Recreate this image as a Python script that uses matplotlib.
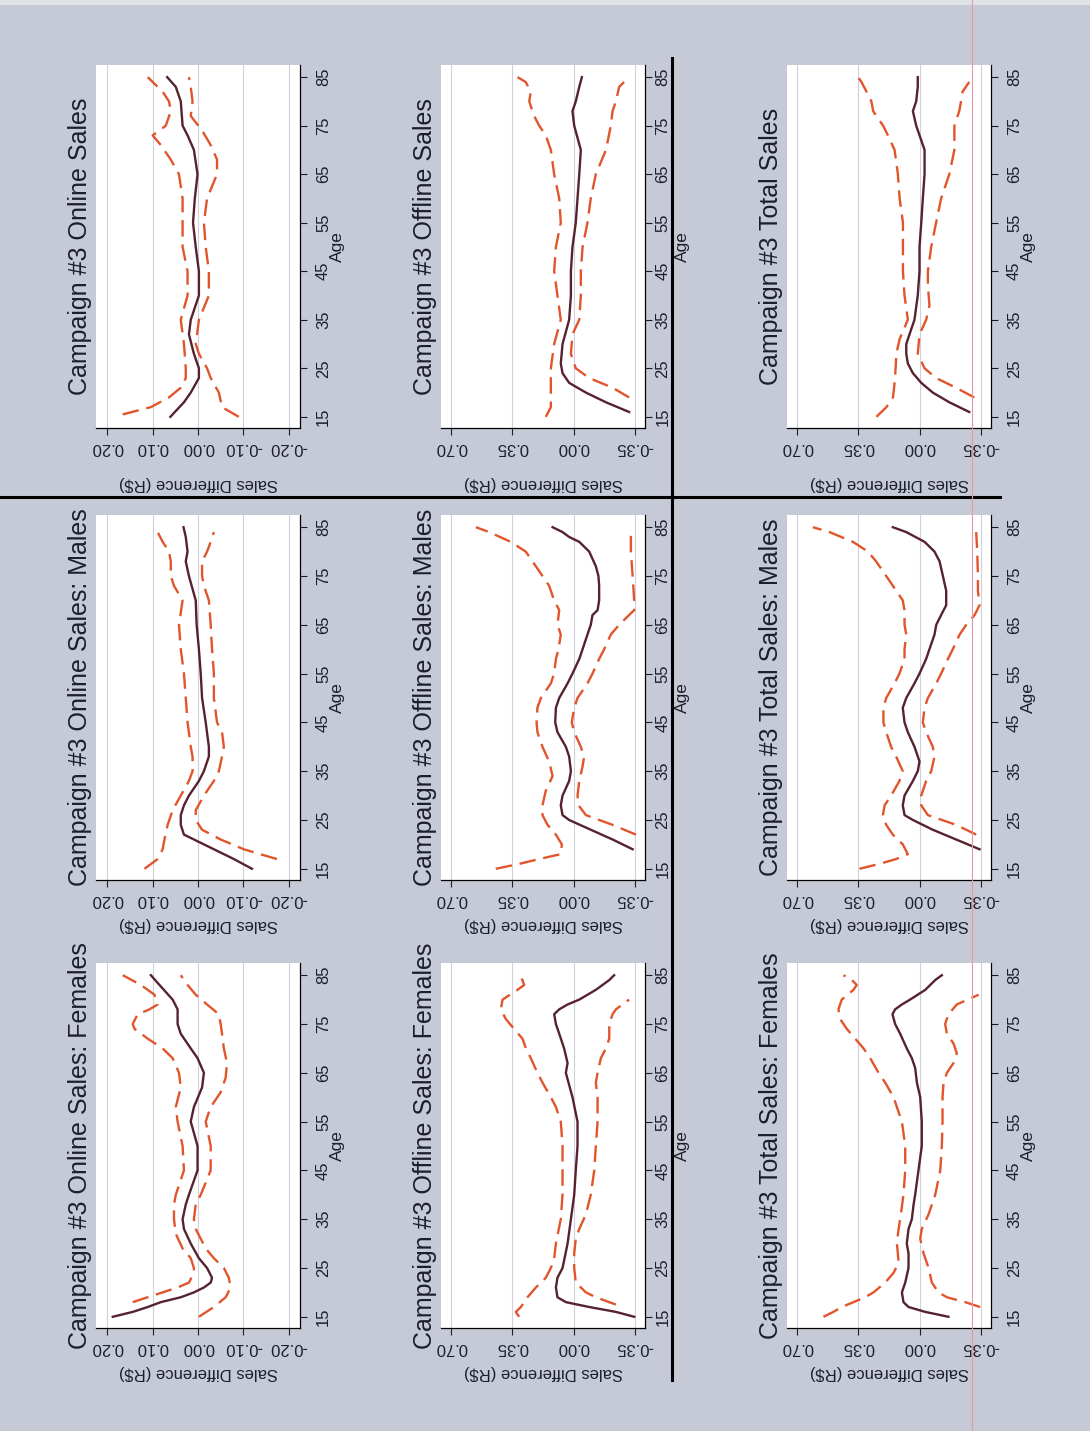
import matplotlib
matplotlib.use("Agg")
import matplotlib.pyplot as plt
from matplotlib.lines import Line2D
from matplotlib.patches import Rectangle

plt.rcParams["font.family"] = ["Liberation Sans", "DejaVu Sans"]

# ---------------------------------------------------------------------------
# Data: (age, sales difference in R$) for the estimate and its 95% bounds
# ---------------------------------------------------------------------------
AGE_TICKS = [15, 25, 35, 45, 55, 65, 75, 85]

ONLINE_TICKS = [0.20, 0.10, 0.00, -0.10, -0.20]
ONLINE_TICK_LABELS = ["0.20", "0.10", "0.00", "-0.10", "-0.20"]
STORE_TICKS = [0.70, 0.35, 0.00, -0.35]
STORE_TICK_LABELS = ["0.70", "0.35", "0.00", "-0.35"]

# Campaign #3, online sales, all customers
on_all_est = [(15, 0.061), (18, 0.031), (20, 0.016), (23, -0.002), (25, -0.002), (28, 0.009),
              (32, 0.020), (35, 0.016), (40, -0.002), (45, -0.002), (50, 0.005), (55, 0.011),
              (60, 0.007), (65, 0.001), (70, 0.009), (73, 0.023), (75, 0.034), (80, 0.038),
              (83, 0.049), (85, 0.068)]
on_all_hi = [(15.5, 0.166), (17, 0.104), (19, 0.064), (21, 0.038), (23, 0.027), (25, 0.027),
             (30, 0.031), (35, 0.038), (40, 0.023), (45, 0.023), (50, 0.034), (55, 0.034),
             (60, 0.034), (65, 0.042), (68, 0.060), (71, 0.082), (73, 0.100), (75, 0.071),
             (78, 0.060), (80, 0.064), (82, 0.078), (85, 0.111)]
on_all_lo = [(15, -0.090), (17, -0.053), (20, -0.046), (23, -0.028), (25, -0.020), (28, -0.002),
             (30, 0.005), (35, -0.002), (40, -0.024), (45, -0.024), (50, -0.017), (55, -0.013),
             (60, -0.020), (65, -0.042), (68, -0.042), (71, -0.028), (74, -0.009), (77, 0.016),
             (80, 0.012), (83, 0.016), (85, 0.020)]

# Campaign #3, offline sales, all customers
off_all_est = [(16, -0.319), (18, -0.186), (20, -0.071), (22, 0.025), (24, 0.063), (26, 0.073),
               (30, 0.063), (35, 0.025), (40, 0.015), (45, 0.015), (50, 0.006), (55, -0.013),
               (60, -0.023), (65, -0.033), (70, -0.042), (75, -0.004), (78, 0.006), (80, -0.013),
               (83, -0.033), (85, -0.048)]
off_all_hi = [(15, 0.159), (17, 0.130), (20, 0.130), (25, 0.130), (30, 0.111), (35, 0.073),
              (40, 0.092), (45, 0.111), (50, 0.101), (55, 0.073), (60, 0.082), (65, 0.111),
              (70, 0.130), (73, 0.159), (75, 0.197), (77, 0.226), (80, 0.254), (82, 0.245),
              (84, 0.274), (85, 0.321)]
off_all_lo = [(19, -0.319), (21, -0.224), (23, -0.090), (25, -0.013), (28, 0.015), (32, 0.006),
              (35, -0.033), (40, -0.042), (45, -0.042), (50, -0.052), (55, -0.080), (60, -0.099),
              (65, -0.128), (70, -0.186), (75, -0.214), (78, -0.224), (80, -0.243), (83, -0.262),
              (84, -0.290)]

# Campaign #3, total sales, all customers
tot_all_est = [(16, -0.285), (18, -0.171), (20, -0.076), (22, -0.010), (24, 0.038), (26, 0.067),
               (28, 0.076), (30, 0.076), (33, 0.048), (35, 0.029), (40, 0.010), (45, 0.000),
               (50, 0.000), (55, -0.010), (60, -0.019), (65, -0.029), (70, -0.029), (75, 0.019),
               (78, 0.038), (80, 0.019), (83, 0.010), (85, 0.010)]
tot_all_hi = [(15, 0.247), (17, 0.190), (19, 0.152), (22, 0.143), (25, 0.137), (28, 0.133),
              (31, 0.114), (35, 0.067), (40, 0.086), (45, 0.095), (50, 0.095), (55, 0.095),
              (60, 0.114), (65, 0.124), (70, 0.143), (73, 0.181), (75, 0.209), (78, 0.266),
              (80, 0.276), (82, 0.304), (84, 0.333), (85, 0.352)]
tot_all_lo = [(19, -0.314), (21, -0.209), (23, -0.095), (25, -0.029), (28, 0.010), (32, 0.000),
              (35, -0.038), (38, -0.057), (42, -0.048), (45, -0.048), (50, -0.067), (55, -0.095),
              (60, -0.124), (65, -0.171), (70, -0.200), (75, -0.200), (78, -0.228), (80, -0.238),
              (82, -0.247), (84, -0.285)]

# Campaign #3, online sales, males
on_m_est = [(15, -0.119), (17, -0.079), (19, -0.035), (21, 0.009), (22, 0.031), (24, 0.038),
            (26, 0.038), (28, 0.031), (30, 0.020), (33, -0.002), (35, -0.013), (38, -0.024),
            (40, -0.024), (45, -0.017), (50, -0.009), (55, -0.006), (60, -0.002), (65, 0.003),
            (70, 0.005), (75, 0.020), (78, 0.027), (80, 0.023), (83, 0.027), (85, 0.032)]
on_m_hi = [(15, 0.118), (17, 0.089), (19, 0.078), (21, 0.074), (24, 0.067), (27, 0.056),
           (30, 0.038), (33, 0.020), (35, 0.012), (38, 0.012), (40, 0.016), (45, 0.023),
           (50, 0.027), (55, 0.031), (60, 0.038), (65, 0.042), (70, 0.034), (73, 0.053),
           (75, 0.060), (78, 0.060), (80, 0.064), (82, 0.078), (84, 0.089)]
on_m_lo = [(17, -0.174), (18, -0.137), (19, -0.101), (21, -0.050), (23, -0.009), (25, 0.005),
           (27, 0.005), (30, -0.013), (33, -0.035), (35, -0.046), (38, -0.053), (40, -0.057),
           (43, -0.053), (45, -0.042), (50, -0.035), (55, -0.035), (60, -0.031), (65, -0.028),
           (70, -0.024), (73, -0.013), (75, -0.009), (78, -0.009), (80, -0.020), (82, -0.028),
           (84, -0.035)]

# Campaign #3, offline sales, males
off_m_est = [(19, -0.339), (21, -0.224), (23, -0.099), (25, 0.025), (26, 0.063), (28, 0.073),
             (30, 0.063), (33, 0.025), (35, 0.015), (38, 0.025), (40, 0.044), (43, 0.092),
             (45, 0.105), (48, 0.101), (50, 0.082), (53, 0.034), (55, 0.006), (58, -0.033),
             (60, -0.052), (63, -0.080), (65, -0.099), (67, -0.109), (68, -0.138), (70, -0.147),
             (73, -0.147), (75, -0.143), (77, -0.128), (80, -0.090), (82, -0.033), (83, 0.025),
             (84, 0.063), (85, 0.120)]
off_m_hi = [(15, 0.446), (16, 0.312), (17, 0.197), (18, 0.073), (20, 0.067), (22, 0.101),
            (24, 0.149), (26, 0.178), (28, 0.178), (31, 0.159), (34, 0.120), (37, 0.140),
            (40, 0.178), (43, 0.207), (45, 0.212), (48, 0.207), (50, 0.187), (53, 0.130),
            (55, 0.111), (58, 0.101), (60, 0.086), (63, 0.073), (65, 0.092), (68, 0.082),
            (70, 0.111), (73, 0.140), (75, 0.178), (78, 0.235), (80, 0.274), (82, 0.360),
            (84, 0.484), (85, 0.560)]
off_m_lo = [(22, -0.358), (24, -0.224), (26, -0.071), (28, -0.029), (30, -0.023), (33, -0.033),
            (36, -0.052), (38, -0.061), (40, -0.042), (43, -0.004), (45, 0.010), (48, -0.004),
            (50, -0.023), (53, -0.080), (55, -0.109), (58, -0.147), (60, -0.176), (63, -0.214),
            (65, -0.262), (67, -0.319), (68, -0.348), (70, -0.348), (75, -0.339), (80, -0.329),
            (84, -0.329)]

# Campaign #3, total sales, males
tot_m_est = [(19, -0.344), (21, -0.210), (23, -0.076), (25, 0.038), (26, 0.086), (28, 0.096),
             (30, 0.086), (33, 0.038), (35, 0.010), (37, 0.000), (40, 0.029), (43, 0.067),
             (45, 0.086), (48, 0.096), (50, 0.076), (53, 0.029), (55, 0.000), (58, -0.038),
             (60, -0.057), (63, -0.086), (65, -0.096), (67, -0.124), (69, -0.153), (72, -0.153),
             (75, -0.134), (78, -0.115), (80, -0.086), (82, -0.029), (84, 0.076), (85, 0.153)]
tot_m_hi = [(15, 0.344), (16, 0.230), (17, 0.134), (18, 0.067), (20, 0.096), (22, 0.153),
            (24, 0.191), (26, 0.210), (28, 0.200), (30, 0.163), (33, 0.115), (35, 0.096),
            (38, 0.134), (40, 0.163), (43, 0.191), (45, 0.207), (48, 0.207), (50, 0.191),
            (53, 0.143), (55, 0.115), (58, 0.086), (60, 0.086), (63, 0.076), (65, 0.086),
            (68, 0.086), (70, 0.096), (72, 0.134), (75, 0.191), (78, 0.249), (80, 0.296),
            (82, 0.382), (84, 0.516), (85, 0.612)]
tot_m_lo = [(22, -0.325), (24, -0.210), (26, -0.048), (28, -0.010), (30, -0.010), (33, -0.038),
            (35, -0.067), (38, -0.086), (40, -0.076), (43, -0.038), (45, -0.019), (48, -0.029),
            (50, -0.048), (53, -0.096), (55, -0.124), (58, -0.163), (60, -0.191), (63, -0.230),
            (65, -0.268), (67, -0.316), (69, -0.344), (72, -0.335), (75, -0.335), (80, -0.331),
            (84, -0.325)]

# Campaign #3, online sales, females
on_f_est = [(15, 0.188), (16, 0.144), (17, 0.111), (18, 0.082), (19, 0.038), (20, 0.009),
            (21, -0.013), (22, -0.028), (23, -0.031), (25, -0.020), (27, -0.002), (30, 0.016),
            (33, 0.031), (35, 0.034), (38, 0.027), (40, 0.020), (45, 0.001), (50, 0.001),
            (55, 0.016), (58, 0.009), (62, -0.009), (65, -0.013), (68, 0.001), (70, 0.016),
            (73, 0.038), (75, 0.045), (78, 0.045), (80, 0.056), (83, 0.085), (85, 0.104)]
on_f_hi = [(18, 0.144), (19, 0.111), (20, 0.078), (21, 0.045), (22, 0.020), (24, 0.009),
           (25, 0.009), (27, 0.016), (29, 0.034), (32, 0.049), (35, 0.053), (38, 0.053),
           (40, 0.049), (45, 0.031), (50, 0.034), (55, 0.045), (58, 0.049), (62, 0.038),
           (65, 0.042), (68, 0.056), (70, 0.078), (72, 0.111), (74, 0.140), (75, 0.144),
           (77, 0.133), (78, 0.107), (79, 0.089), (81, 0.096), (83, 0.126), (85, 0.166)]
on_f_lo = [(15, -0.002), (17, -0.035), (19, -0.061), (21, -0.072), (23, -0.068), (25, -0.057),
           (27, -0.035), (29, -0.017), (31, -0.006), (33, 0.005), (35, 0.009), (38, 0.005),
           (40, -0.006), (45, -0.028), (50, -0.028), (55, -0.017), (58, -0.028), (61, -0.050),
           (64, -0.061), (67, -0.064), (70, -0.057), (73, -0.053), (75, -0.050), (77, -0.046),
           (79, -0.020), (81, 0.005), (83, 0.023), (85, 0.038)]

# Campaign #3, offline sales, females
off_f_est = [(15, -0.348), (16, -0.243), (17, -0.090), (18, 0.044), (19, 0.092), (21, 0.101),
             (23, 0.092), (25, 0.063), (30, 0.034), (35, 0.015), (40, -0.004), (45, -0.013),
             (50, -0.023), (55, -0.023), (60, 0.006), (65, 0.044), (67, 0.034), (70, 0.054),
             (73, 0.082), (75, 0.101), (77, 0.111), (78, 0.082), (79, 0.034), (80, -0.033),
             (82, -0.128), (84, -0.205), (85, -0.233)]
off_f_hi = [(15, 0.312), (16, 0.331), (17, 0.302), (19, 0.264), (21, 0.216), (23, 0.159),
            (25, 0.130), (27, 0.111), (30, 0.101), (35, 0.073), (40, 0.063), (45, 0.063),
            (50, 0.063), (55, 0.073), (58, 0.101), (60, 0.130), (63, 0.178), (65, 0.207),
            (68, 0.245), (70, 0.273), (72, 0.293), (74, 0.341), (76, 0.388), (78, 0.417),
            (80, 0.407), (82, 0.321), (83, 0.283), (84, 0.293), (85, 0.312)]
off_f_lo = [(17.5, -0.243), (19, -0.128), (20, -0.071), (22, -0.013), (25, -0.004), (28, -0.004),
            (31, -0.013), (33, -0.033), (36, -0.071), (40, -0.099), (45, -0.119), (50, -0.128),
            (55, -0.138), (60, -0.138), (63, -0.128), (65, -0.138), (68, -0.157), (70, -0.186),
            (72, -0.205), (75, -0.205), (77, -0.224), (78, -0.243), (79, -0.281), (80, -0.319)]

# Campaign #3, total sales, females
tot_f_est = [(15, -0.166), (16, -0.033), (17, 0.063), (18, 0.092), (20, 0.101), (22, 0.082),
             (25, 0.063), (28, 0.063), (30, 0.073), (33, 0.063), (35, 0.044), (38, 0.034),
             (40, 0.025), (45, 0.006), (50, -0.013), (55, -0.013), (60, -0.004), (63, 0.015),
             (66, 0.025), (68, 0.044), (70, 0.073), (73, 0.111), (75, 0.140), (77, 0.155),
             (78, 0.140), (79, 0.101), (80, 0.054), (82, -0.033), (84, -0.090), (85, -0.128)]
tot_f_hi = [(15, 0.551), (16, 0.494), (17, 0.446), (18, 0.379), (19, 0.312), (20, 0.264),
            (22, 0.197), (24, 0.149), (26, 0.120), (28, 0.124), (30, 0.130), (33, 0.120),
            (35, 0.111), (40, 0.092), (45, 0.082), (50, 0.082), (55, 0.101), (58, 0.130),
            (60, 0.149), (63, 0.197), (65, 0.235), (68, 0.283), (70, 0.321), (72, 0.369),
            (74, 0.417), (76, 0.455), (78, 0.465), (80, 0.446), (82, 0.379), (83, 0.360),
            (84, 0.388), (85, 0.436)]
tot_f_lo = [(17, -0.348), (18, -0.262), (19, -0.157), (20, -0.109), (22, -0.071), (25, -0.052),
            (28, -0.023), (31, -0.004), (33, -0.013), (36, -0.052), (40, -0.090), (45, -0.119),
            (50, -0.128), (55, -0.132), (60, -0.132), (63, -0.138), (65, -0.157), (67, -0.195),
            (69, -0.214), (71, -0.195), (73, -0.157), (75, -0.147), (77, -0.166), (79, -0.214),
            (81, -0.339)]

TITLES = [
    ["Campaign #3 Online Sales", "Campaign #3 Offline Sales", "Campaign #3 Total Sales"],
    ["Campaign #3 Online Sales: Males", "Campaign #3 Offline Sales: Males",
     "Campaign #3 Total Sales: Males"],
    ["Campaign #3 Online Sales: Females", "Campaign #3 Offline Sales: Females",
     "Campaign #3 Total Sales: Females"],
]
CURVES = [
    [(on_all_est, on_all_hi, on_all_lo), (off_all_est, off_all_hi, off_all_lo),
     (tot_all_est, tot_all_hi, tot_all_lo)],
    [(on_m_est, on_m_hi, on_m_lo), (off_m_est, off_m_hi, off_m_lo),
     (tot_m_est, tot_m_hi, tot_m_lo)],
    [(on_f_est, on_f_hi, on_f_lo), (off_f_est, off_f_hi, off_f_lo),
     (tot_f_est, tot_f_hi, tot_f_lo)],
]

# ---------------------------------------------------------------------------
# Styling and layout (the page is laid out turned a quarter turn)
# ---------------------------------------------------------------------------
BG = "#c6cad7"
EST_COLOR = "#56222f"
CI_COLOR = "#e2552c"
GRID_COLOR = "#d0d0dc"
TEXT_COLOR = "#1c1e2c"

W, H = 1090, 1431
COLS = [(96, 300), (441, 645), (787, 991)]
ROWS = [(65, 428), (515, 880), (963, 1328)]
XLABEL_Y = [-0.152, -0.123, -0.123]
AGE_PAD = [6.5, 2.5, 6.5]


def frac_rect(left, top, right, bottom):
    return [left / W, 1 - bottom / H, (right - left) / W, (bottom - top) / H]


fig = plt.figure(figsize=(W / 100, H / 100), dpi=100, facecolor=BG)
fig.add_artist(Rectangle((0, 1 - 5 / H), 1, 5 / H, transform=fig.transFigure,
                         color="#e2e3e9", lw=0, zorder=0))

for r, (top, bottom) in enumerate(ROWS):
    for c, (left, right) in enumerate(COLS):
        ax = fig.add_axes(frac_rect(left, top, right, bottom))
        ax.set_facecolor("white")
        if c == 0:
            ticks, tick_labels, xlim = ONLINE_TICKS, ONLINE_TICK_LABELS, (0.225, -0.225)
        else:
            ticks, tick_labels, xlim = STORE_TICKS, STORE_TICK_LABELS, (0.76, -0.41)
        ax.set_xlim(*xlim)
        ax.set_ylim(12.7, 87.5)

        for t in ticks:
            ax.axvline(t, color=GRID_COLOR, lw=0.8, zorder=0)

        est, hi, lo = CURVES[r][c]
        for series, style in ((hi, "ci"), (lo, "ci"), (est, "est")):
            ages = [p[0] for p in series]
            vals = [p[1] for p in series]
            if style == "est":
                ax.plot(vals, ages, color=EST_COLOR, lw=1.7, zorder=3,
                        solid_joinstyle="round")
            else:
                ax.plot(vals, ages, color=CI_COLOR, lw=1.7, zorder=2,
                        dashes=(7.0, 3.3), dash_capstyle="butt")

        ax.set_xticks(ticks)
        ax.set_xticklabels(tick_labels, rotation=180)
        ax.yaxis.tick_right()
        ax.set_yticks(AGE_TICKS)
        ax.set_yticklabels([str(a) for a in AGE_TICKS], rotation=90, va="center")
        ax.tick_params(axis="x", direction="out", length=5, width=0.8, pad=3.5,
                       labelsize=12, colors=TEXT_COLOR)
        ax.tick_params(axis="y", direction="out", length=5, width=0.8, pad=AGE_PAD[c],
                       labelsize=12, colors=TEXT_COLOR)
        for side in ("top", "left"):
            ax.spines[side].set_visible(False)
        for side in ("bottom", "right"):
            ax.spines[side].set_linewidth(0.9)
            ax.spines[side].set_color("black")

        ax.text(0.5, XLABEL_Y[r], "Sales Difference (R$)", transform=ax.transAxes,
                rotation=180, ha="center", va="center", fontsize=12, color=TEXT_COLOR)
        ax.text(1.185, 0.5, "Age", transform=ax.transAxes, rotation=90,
                ha="center", va="center", fontsize=12.5, color=TEXT_COLOR)

        fig.text((left - 16) / W, 1 - ((top + bottom) / 2) / H, TITLES[r][c],
                 rotation=90, ha="center", va="center", fontsize=18, color=TEXT_COLOR)

# Separator rules of the combined figure
fig.add_artist(Line2D([0, 1000 / W], [1 - 497 / H] * 2, transform=fig.transFigure,
                      color="black", lw=2.2, zorder=5))
fig.add_artist(Line2D([672 / W] * 2, [1 - 58 / H, 1 - 1380 / H], transform=fig.transFigure,
                      color="black", lw=2.2, zorder=5))
fig.add_artist(Line2D([972 / W] * 2, [0, 1], transform=fig.transFigure,
                      color="#e49aa4", lw=0.8, zorder=6))

fig.savefig("out.png", dpi=100, facecolor=fig.get_facecolor())
